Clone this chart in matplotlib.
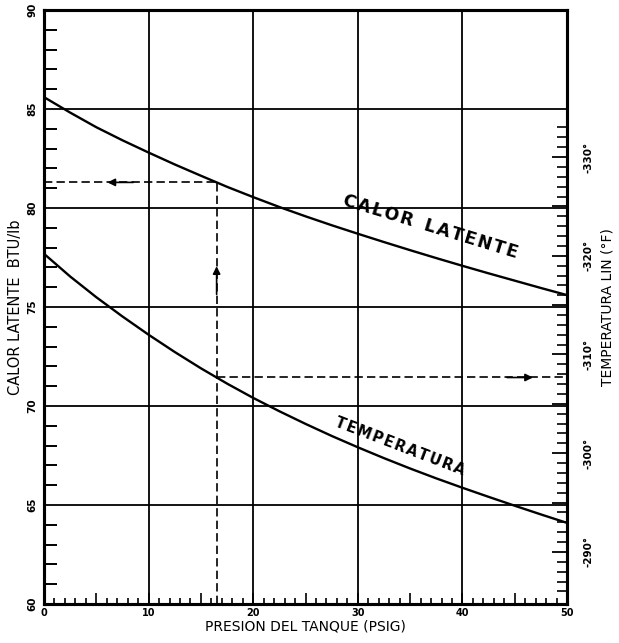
import matplotlib
matplotlib.use("Agg")
import matplotlib.pyplot as plt
import matplotlib.ticker as mticker
import numpy as np

# datos
presion = [0, 2.5, 5, 7.5, 10, 12.5, 15, 17.5, 20, 22.5, 25,
           27.5, 30, 32.5, 35, 37.5, 40, 42.5, 45, 47.5, 50]          # PSIG
calor = [85.6, 84.82, 84.08, 83.42, 82.8, 82.2, 81.63, 81.07, 80.55, 80.05, 79.58,
         79.13, 78.7, 78.28, 77.87, 77.47, 77.08, 76.7, 76.33, 75.96, 75.6]   # BTU/lb
temp = [-320.2, -317.9, -315.8, -313.85, -312.0, -310.25, -308.6, -307.05, -305.6, -304.25, -302.97,
        -301.75, -300.6, -299.5, -298.45, -297.45, -296.5, -295.58, -294.68, -293.8, -292.94]  # F
p_ejemplo = 16.5

plt.rcParams['font.family'] = ['DejaVu Sans']


def espaciado(s):
    return '\u200a'.join(s)


fig = plt.figure(figsize=(6.19, 6.43), dpi=100)
ax = fig.add_axes([0.0711, 0.0607, 0.845, 0.9237])
ax2 = ax.twinx()

ax.set_xlim(0, 50)
ax.set_ylim(60, 90)
ax2.set_ylim(-284.73, -344.89)

# rejilla
for x in [10, 20, 30, 40]:
    ax.axvline(x, color='k', lw=1.3, zorder=1)
for y in [65, 70, 75, 80, 85]:
    ax.axhline(y, color='k', lw=1.3, zorder=1)

# curvas
ax.plot(presion, calor, color='k', lw=1.7, zorder=3)
ax2.plot(presion, temp, color='k', lw=1.7, zorder=3)

# ejemplo con flechas
c_ej = np.interp(p_ejemplo, presion, calor)
t_ej = np.interp(p_ejemplo, presion, temp)
dash = dict(color='k', lw=1.2, dashes=(5, 2.5))
ax.plot([p_ejemplo, p_ejemplo], [60, c_ej], **dash)
ax.plot([0, p_ejemplo], [c_ej, c_ej], **dash)
ax2.plot([p_ejemplo, 50], [t_ej, t_ej], **dash)
ap = dict(arrowstyle='-|>', color='k', lw=1.2, mutation_scale=11)
ax.annotate('', xy=(p_ejemplo, 77.2), xytext=(p_ejemplo, 75.5), arrowprops=ap)
ax.annotate('', xy=(5.8, c_ej), xytext=(8.8, c_ej), arrowprops=ap)
ax2.annotate('', xy=(47.0, t_ej), xytext=(44.0, t_ej), arrowprops=ap)

# etiquetas sobre curvas
ax.text(36.9, 79.05, espaciado('CALOR') + '  ' + espaciado('LATENTE'), rotation=-17,
        fontsize=12.5, ha='center', va='center', fontweight='bold')
ax.text(34.0, 67.95, espaciado('TEMPERATURA'), rotation=-21, fontsize=10.5,
        ha='center', va='center', fontweight='bold')

# ejes y ticks
for s in ['left', 'bottom', 'top', 'right']:
    ax.spines[s].set_linewidth(2.2)
    ax2.spines[s].set_linewidth(2.2)

ax.xaxis.set_major_locator(mticker.MultipleLocator(5))
ax.xaxis.set_minor_locator(mticker.MultipleLocator(1))
ax.xaxis.set_major_formatter(mticker.FuncFormatter(
    lambda v, p: '%d' % v if int(round(v)) % 10 == 0 else ''))
ax.yaxis.set_major_locator(mticker.MultipleLocator(5))
ax.yaxis.set_minor_locator(mticker.MultipleLocator(1))

ax.tick_params(axis='x', which='major', direction='in', length=8, width=1.2,
               labelsize=7, pad=3, top=False)
ax.tick_params(axis='x', which='minor', direction='in', length=4, width=1.2, top=False)
ax.tick_params(axis='y', which='major', direction='in', length=0, labelsize=7.5,
               pad=5, labelrotation=90, right=False)
ax.tick_params(axis='y', which='minor', direction='in', length=9, width=1.4, right=False)
for lab in ax.get_xticklabels() + ax.get_yticklabels():
    lab.set_fontweight('bold')
for lab in ax.get_yticklabels():
    lab.set_va('center')

ax2.yaxis.set_major_locator(mticker.FixedLocator(range(-330, -289, 5)))
ax2.yaxis.set_minor_locator(mticker.FixedLocator(range(-333, -285)))
ax2.yaxis.set_major_formatter(mticker.FuncFormatter(
    lambda v, p: '%d\u00b0' % v if int(round(v)) % 10 == 0 else ''))
ax2.tick_params(axis='y', which='major', direction='in', length=11, width=1.3,
                labelsize=7.5, pad=12, labelrotation=90)
ax2.tick_params(axis='y', which='minor', direction='in', length=7, width=1.2)
for lab in ax2.get_yticklabels():
    lab.set_fontweight('bold')
    lab.set_va('center')

ax.set_xlabel('PRESION DEL TANQUE (PSIG)', fontsize=10, labelpad=1)
ax.set_ylabel('CALOR LATENTE  BTU/lb', fontsize=10.5, labelpad=3)
ax2.set_ylabel('TEMPERATURA LIN (\u00b0F)', fontsize=10, labelpad=5)

fig.savefig('out.png', dpi=100)
